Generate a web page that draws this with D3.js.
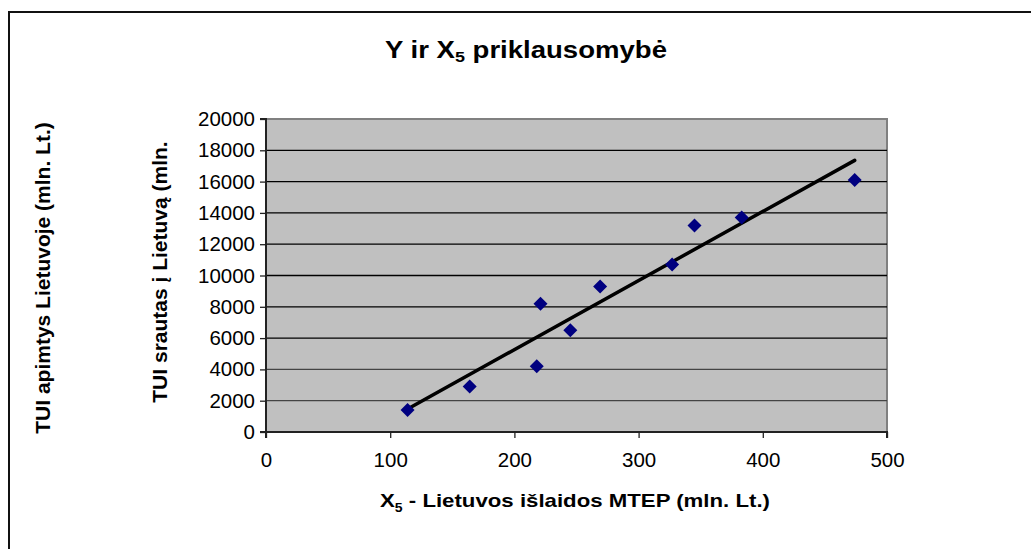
<!DOCTYPE html>
<html>
<head>
<meta charset="utf-8">
<script src="https://cdn.jsdelivr.net/npm/d3@7"></script>
<style>
  body { margin: 0; background: #fff; }
  svg { font-family: Arial, "Liberation Sans", sans-serif; }
</style>
</head>
<body>
<svg id="chart" width="1031" height="549"></svg>
<script>
// X5 - Lietuvos islaidos MTEP, Y - TUI srautas
var xValues = [114, 164, 218, 221, 245, 269, 327, 345, 383, 474];
var yValues = [1400, 2900, 4200, 8200, 6500, 9300, 10700, 13200, 13700, 16100];
var xTicks = [0, 100, 200, 300, 400, 500];
var yTicks = [0, 2000, 4000, 6000, 8000, 10000, 12000, 14000, 16000, 18000, 20000];

var svg = d3.select("#chart");

// outer frame (cut off on the right and bottom)
svg.append("rect")
    .attr("x", 9).attr("y", 12)
    .attr("width", 1040).attr("height", 560)
    .attr("fill", "none")
    .attr("stroke", "#111")
    .attr("stroke-width", 2);

var pLeft = 266, pRight = 887, pTop = 119, pBottom = 432;

var x = d3.scaleLinear().domain([0, 500]).range([pLeft, pRight]);
var y = d3.scaleLinear().domain([0, 20000]).range([pBottom, pTop]);

// plot area
svg.append("rect")
    .attr("x", pLeft).attr("y", pTop)
    .attr("width", pRight - pLeft).attr("height", pBottom - pTop)
    .attr("fill", "#c0c0c0")
    .attr("stroke", "#808080")
    .attr("stroke-width", 2);

// gridlines
svg.append("g")
    .selectAll("line")
    .data(yTicks.filter(function(d) { return d > 0 && d < 20000; }))
    .enter()
    .append("line")
    .attr("x1", pLeft).attr("x2", pRight)
    .attr("y1", function(d) { return y(d); })
    .attr("y2", function(d) { return y(d); })
    .attr("stroke", function(d) { return d <= 4000 ? "#444" : "#000"; })
    .attr("stroke-width", 1.3);

// axes
var xAxis = svg.append("g")
    .attr("transform", "translate(0," + pBottom + ")")
    .call(d3.axisBottom(x).tickValues(xTicks).tickSize(6).tickPadding(14));
var yAxis = svg.append("g")
    .attr("transform", "translate(" + pLeft + ",0)")
    .call(d3.axisLeft(y).tickValues(yTicks).tickSize(6).tickPadding(5).tickFormat(d3.format("d")));

[xAxis, yAxis].forEach(function(a) {
    a.select(".domain").attr("stroke", "#222").attr("stroke-width", 2);
    a.selectAll(".tick line").attr("stroke", "#222").attr("stroke-width", 1.3);
    a.selectAll("text")
        .attr("fill", "#000")
        .style("font-size", "20.5px")
        .style("font-family", "Arial, 'Liberation Sans', sans-serif");
});
xAxis.select(".domain").attr("d", "M" + pLeft + ",6V0H" + pRight + "V6");
yAxis.select(".domain").attr("d", "M-6," + pBottom + "H0V" + pTop + "H-6");

// regression trendline
var mx = d3.mean(xValues), my = d3.mean(yValues);
var sxy = d3.sum(xValues, function(d, i) { return (d - mx) * (yValues[i] - my); });
var sxx = d3.sum(xValues, function(d) { return (d - mx) * (d - mx); });
var slope = sxy / sxx, icpt = my - slope * mx;
var x0 = d3.min(xValues), x1 = d3.max(xValues);

svg.append("line")
    .attr("x1", x(x0)).attr("y1", y(icpt + slope * x0))
    .attr("x2", x(x1)).attr("y2", y(icpt + slope * x1))
    .attr("stroke", "#000")
    .attr("stroke-width", 3.5)
    .attr("stroke-linecap", "round");

// points
svg.append("g")
    .selectAll("path")
    .data(xValues)
    .enter()
    .append("path")
    .attr("d", "M0,-7L7,0L0,7L-7,0Z")
    .attr("transform", function(d, i) {
        return "translate(" + x(d) + "," + y(yValues[i]) + ")";
    })
    .attr("fill", "#000080");

// title
var title = svg.append("text")
    .attr("x", 385).attr("y", 58)
    .attr("textLength", 282)
    .attr("lengthAdjust", "spacingAndGlyphs")
    .style("font-size", "23px")
    .style("font-weight", "bold");
title.append("tspan").text("Y ir X");
title.append("tspan").attr("dy", 4).style("font-size", "15px").text("5");
title.append("tspan").attr("dy", -4).text(" priklausomybė");

// x axis title
var xt = svg.append("text")
    .attr("x", 380).attr("y", 507)
    .attr("textLength", 390)
    .attr("lengthAdjust", "spacingAndGlyphs")
    .style("font-size", "19px")
    .style("font-weight", "bold");
xt.append("tspan").text("X");
xt.append("tspan").attr("dy", 5).style("font-size", "12px").text("5");
xt.append("tspan").attr("dy", -5).text(" - Lietuvos išlaidos MTEP (mln. Lt.)");

// y axis titles
svg.append("text")
    .attr("transform", "translate(50,278) rotate(-90)")
    .attr("text-anchor", "middle")
    .style("font-size", "21px")
    .style("font-weight", "bold")
    .text("TUI apimtys Lietuvoje (mln. Lt.)");

svg.append("text")
    .attr("transform", "translate(167,272) rotate(-90)")
    .attr("text-anchor", "middle")
    .style("font-size", "21px")
    .style("font-weight", "bold")
    .text("TUI srautas į Lietuvą (mln.");
</script>
</body>
</html>
